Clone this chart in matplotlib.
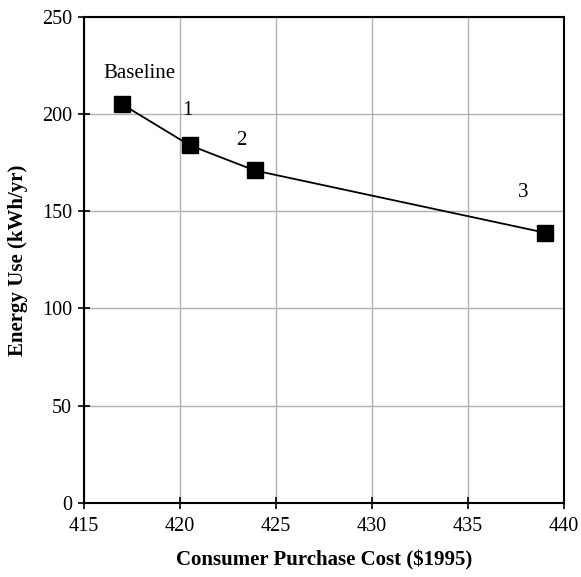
import matplotlib
matplotlib.use('Agg')
import matplotlib.pyplot as plt

# data
cost = [417.0, 420.5, 423.9, 439.0]
energy = [205, 184, 171, 139]
labels = ['Baseline', '1', '2', '3']
label_pos = [(417.9, 221), (420.4, 202), (423.2, 186.5), (437.9, 159.5)]

plt.rcParams['font.family'] = ['Liberation Serif', 'DejaVu Serif']

fig = plt.figure(figsize=(5.81, 5.77), dpi=100)
ax = fig.add_axes([0.1446, 0.1288, 0.8261, 0.8417])

ax.plot(cost, energy, 'k-', lw=1.3, marker='s', ms=11.5, mfc='black', mec='black', zorder=3)
for lab, (x, y) in zip(labels, label_pos):
    ax.text(x, y, lab, ha='center', va='center', fontsize=15)

ax.set_xlim(415, 440)
ax.set_ylim(0, 250)
ax.set_xticks(range(415, 441, 5))
ax.set_yticks(range(0, 251, 50))
ax.grid(True, color='#b0b0b0', lw=1)
ax.set_axisbelow(True)
for s in ax.spines.values():
    s.set_linewidth(1.5)
ax.tick_params(labelsize=14.5, width=1.2, length=9, direction='inout')
ax.tick_params(axis='x', pad=6)
ax.tick_params(axis='y', pad=4)

ax.set_xlabel('Consumer Purchase Cost ($1995)', fontsize=15, fontweight='bold', labelpad=10)
ax.set_ylabel('Energy Use (kWh/yr)', fontsize=15, fontweight='bold', labelpad=10)

fig.savefig('out.png', dpi=100)
